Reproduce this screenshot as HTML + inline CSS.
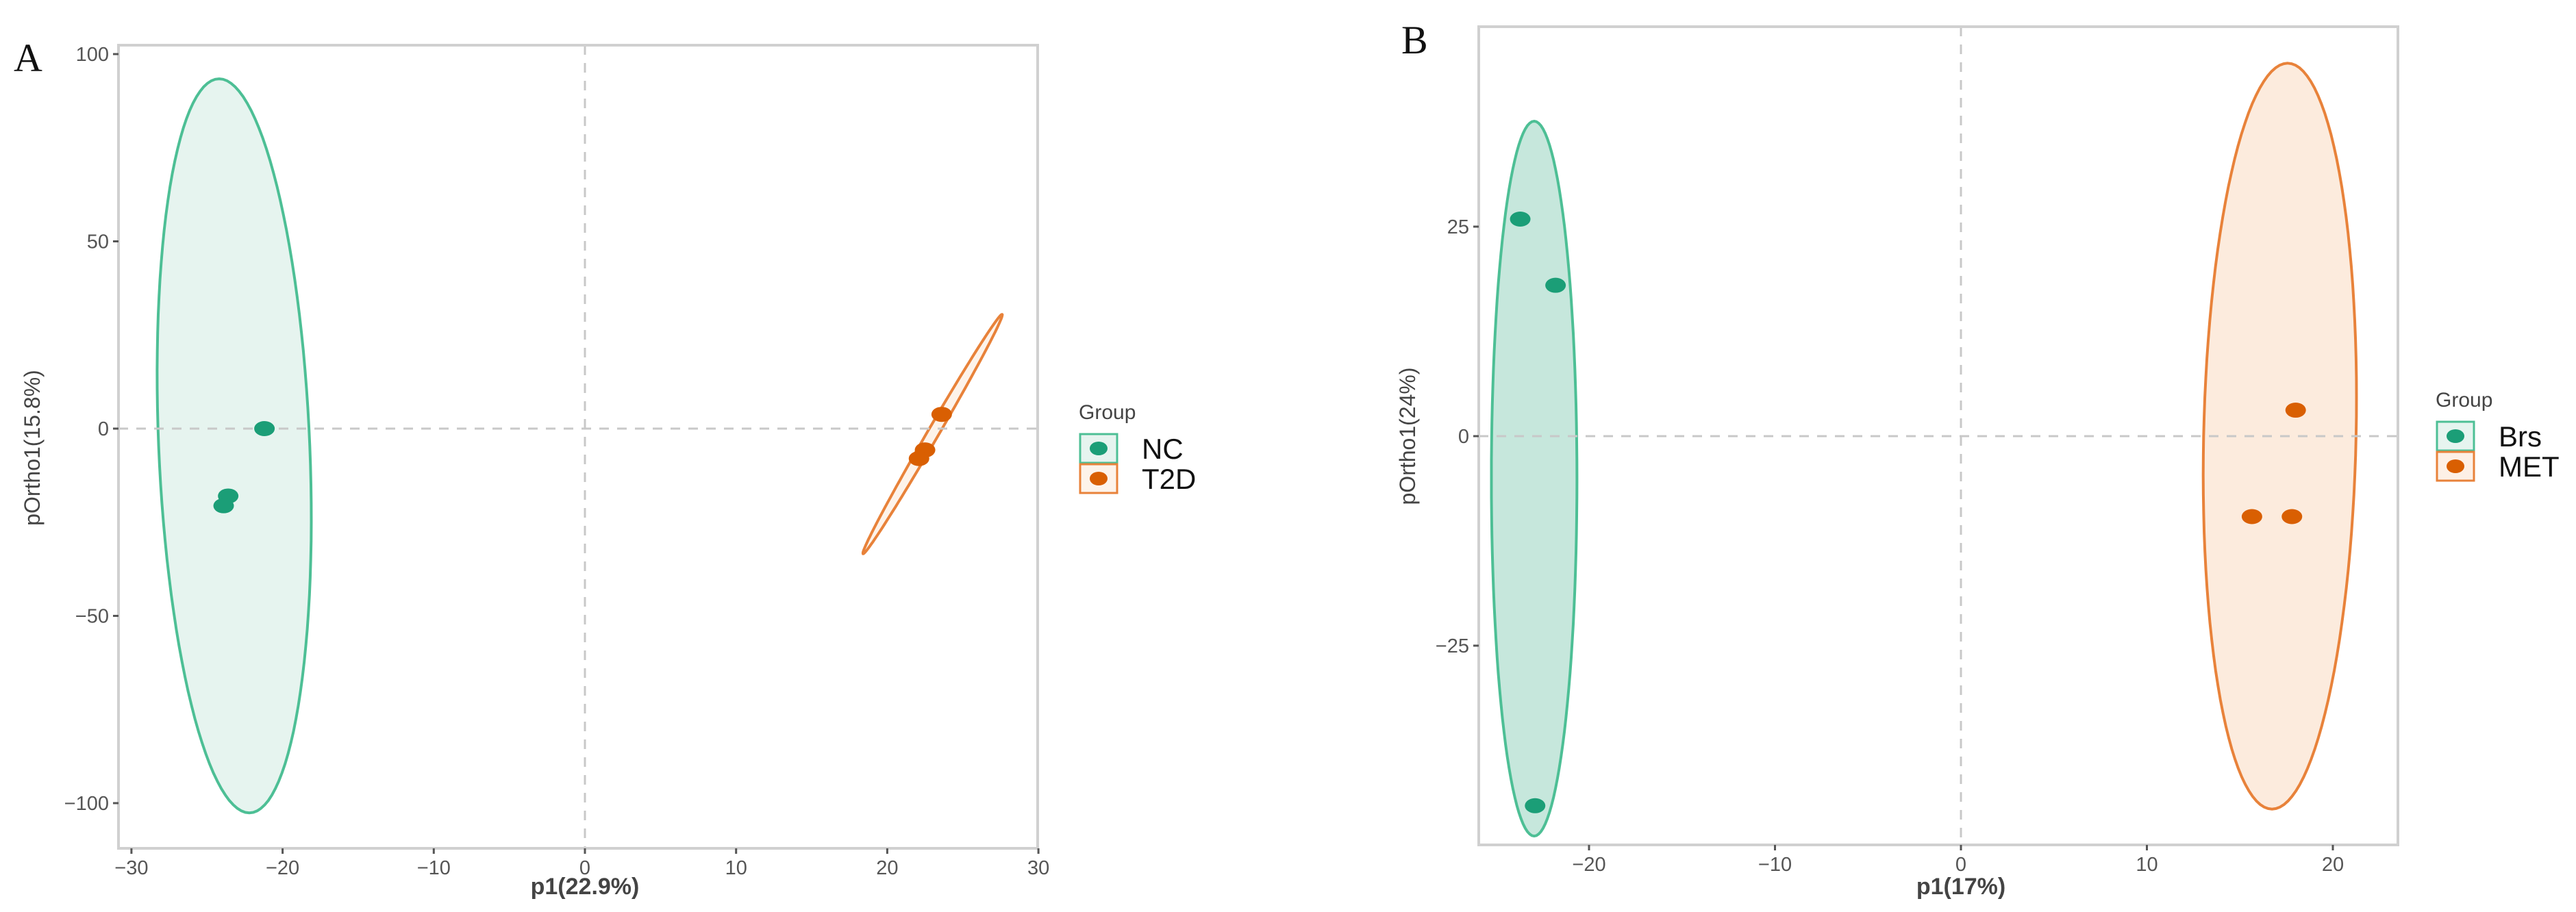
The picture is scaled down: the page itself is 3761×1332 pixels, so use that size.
<!DOCTYPE html>
<html><head><meta charset="utf-8"><style>
html,body{margin:0;padding:0;background:#fff;}
svg{display:block;font-family:"Liberation Sans",sans-serif;}
</style></head><body>
<svg id="fig" width="3761" height="1332" viewBox="0 0 3761 1332" xmlns="http://www.w3.org/2000/svg"></svg>
<script>
// ---- Panel A data ----
const aGroups = ["NC", "T2D"];
const aNCx = [-21.2, -23.6, -23.9];
const aNCy = [0, -18, -20.6];
const aT2Dx = [23.6, 22.5, 22.1];
const aT2Dy = [3.8, -5.7, -8.0];
const aXTicks = [-30, -20, -10, 0, 10, 20, 30];
const aYTicks = [100, 50, 0, -50, -100];
// ellipse: center x, center y, major vector (dx,dy), minor vector (dx,dy) in data units
const aNCEllipse = [-23.2, -4.6, -1.0, 98, 5.0, 0];
const aT2DEllipse = [23.0, -1.45, 4.6, 31.95, 0.32, -0.73];
// ---- Panel B data ----
const bGroups = ["Brs", "MET"];
const bBrsx = [-23.7, -21.8, -22.9];
const bBrsy = [25.9, 18.0, -44.1];
const bMETx = [18.0, 15.65, 17.8];
const bMETy = [3.1, -9.6, -9.6];
const bXTicks = [-20, -10, 0, 10, 20];
const bYTicks = [25, 0, -25];
const bBrsEllipse = [-22.95, -5.07, 0, 42.65, 2.3, 0];
const bMETEllipse = [17.15, 0, 0.42, 44.5, 4.1, 0];

const NS = "http://www.w3.org/2000/svg";
const svg = document.getElementById('fig');
function mk(tag, attrs, parent, text) {
  const e = document.createElementNS(NS, tag);
  for (const k in attrs) e.setAttribute(k, attrs[k]);
  if (text !== undefined) e.textContent = text;
  (parent || svg).appendChild(e);
  return e;
}

function panel(cfg) {
  const g = mk('g', {});
  
  
  const X = v => cfg.x0 + v * cfg.sx;
  const Y = v => cfg.y0 - v * cfg.sy;
  cfg.ellipses.forEach((el, i) => {
    const pts = [];
    for (let k = 0; k <= 120; k++) {
      const t = k / 120 * Math.PI * 2;
      const dx = el[0] + el[2] * Math.cos(t) + el[4] * Math.sin(t);
      const dy = el[1] + el[3] * Math.cos(t) + el[5] * Math.sin(t);
      pts.push(X(dx).toFixed(1) + ',' + Y(dy).toFixed(1));
    }
    const p = mk('polygon', {points: pts.join(' '), fill: cfg.fills[i], stroke: cfg.strokes[i], 'stroke-width': 4}, g);
    
    
  });
  const zl1 = mk('line', {x1: cfg.bx1, x2: cfg.bx2, y1: Y(0), y2: Y(0), stroke: '#c8c8c8', 'stroke-width': 3, 'stroke-dasharray': '14,12'}, g);
  
  
  const zl2 = mk('line', {x1: X(0), x2: X(0), y1: cfg.by1, y2: cfg.by2, stroke: '#c8c8c8', 'stroke-width': 3, 'stroke-dasharray': '14,12'}, g);
  
  
  cfg.series.forEach((s, i) => {
    s[0].forEach((xv, j) => {
      const c = mk('ellipse', {cx: X(xv), cy: Y(s[1][j]), rx: 15, ry: 11, fill: cfg.pointColors[i]}, g);
      
      
    });
  });
  const b = mk('rect', {x: cfg.bx1, y: cfg.by1, width: cfg.bx2 - cfg.bx1, height: cfg.by2 - cfg.by1, fill: 'none', stroke: '#d0d0d0', 'stroke-width': 4}, g);
  
  
  cfg.xticks.forEach(v => {
    const t = mk('line', {x1: X(v), x2: X(v), y1: cfg.by2, y2: cfg.by2 + 8, stroke: '#555', 'stroke-width': 3}, g);
    
    
    const l = mk('text', {x: X(v), y: cfg.by2 + 38, 'text-anchor': 'middle', 'font-size': 29, fill: '#555'}, g, v < 0 ? '\u2212' + Math.abs(v) : String(v));
    
    
  });
  cfg.yticks.forEach(v => {
    const t = mk('line', {x1: cfg.bx1 - 8, x2: cfg.bx1, y1: Y(v), y2: Y(v), stroke: '#555', 'stroke-width': 3}, g);
    
    
    const l = mk('text', {x: cfg.bx1 - 14, y: Y(v) + 10, 'text-anchor': 'end', 'font-size': 29, fill: '#555'}, g, v < 0 ? '\u2212' + Math.abs(v) : String(v));
    
    
  });
  const xt = mk('text', {x: X(0), y: 1306, 'text-anchor': 'middle', 'font-size': 34, 'font-weight': 'bold', fill: '#444'}, g, cfg.xtitle);
  
  
  const yt = mk('text', {x: 0, y: 0, 'text-anchor': 'middle', 'font-size': 32, fill: '#444', transform: `translate(${cfg.ytx},${cfg.yty}) rotate(-90)`}, g, cfg.ytitle);
  
  
  const pl = mk('text', {x: cfg.lx, y: cfg.ly, 'font-size': 58, 'font-family': '"Liberation Serif", serif', fill: '#111'}, g, cfg.label);
  
  
  const lg = mk('g', {}, g);
  
  
  const gt = mk('text', {x: cfg.legx, y: cfg.legy, 'font-size': 30, fill: '#444'}, lg, 'Group');
  
  
  cfg.groups.forEach((name, i) => {
    const ky = cfg.legy + 22 + i * 44;
    const e = mk('g', {}, lg);
    
    
    mk('rect', {x: cfg.legx + 2, y: ky, width: 54, height: 42, fill: cfg.legFills[i], stroke: cfg.strokes[i], 'stroke-width': 3}, e);
    mk('ellipse', {cx: cfg.legx + 29, cy: ky + 21, rx: 13, ry: 10, fill: cfg.pointColors[i]}, e);
    mk('text', {x: cfg.legx + 92, y: ky + 36, 'font-size': 42, fill: '#111'}, e, name);
  });
}

panel({
  name: 'panel-a', label: 'A', lx: 20, ly: 104,
  x0: 854, sx: 22.07, y0: 626, sy: 5.47,
  bx1: 173, bx2: 1515, by1: 66, by2: 1239,
  xticks: aXTicks, yticks: aYTicks,
  groups: aGroups,
  series: [[aNCx, aNCy], [aT2Dx, aT2Dy]],
  ellipses: [aNCEllipse, aT2DEllipse],
  fills: ['#e6f4ef', '#fdf3ea'], strokes: ['#4dbf95', '#e8823a'],
  legFills: ['#e6f4ef', '#fdf3ea'],
  pointColors: ['#1b9e77', '#d95f02'],
  xtitle: 'p1(22.9%)', ytitle: 'pOrtho1(15.8%)', ytx: 58, yty: 654,
  legx: 1575, legy: 612
});
panel({
  name: 'panel-b', label: 'B', lx: 2046, ly: 78,
  x0: 2863, sx: 27.15, y0: 637, sy: 12.24,
  bx1: 2159, bx2: 3501, by1: 39, by2: 1234,
  xticks: bXTicks, yticks: bYTicks,
  groups: bGroups,
  series: [[bBrsx, bBrsy], [bMETx, bMETy]],
  ellipses: [bBrsEllipse, bMETEllipse],
  fills: ['#c6e7dc', '#fcebdd'], strokes: ['#4dbf95', '#e8823a'],
  legFills: ['#e6f4ef', '#fdf0e6'],
  pointColors: ['#1b9e77', '#d95f02'],
  xtitle: 'p1(17%)', ytitle: 'pOrtho1(24%)', ytx: 2066, yty: 637,
  legx: 3556, legy: 594
});
</script>
</body></html>
